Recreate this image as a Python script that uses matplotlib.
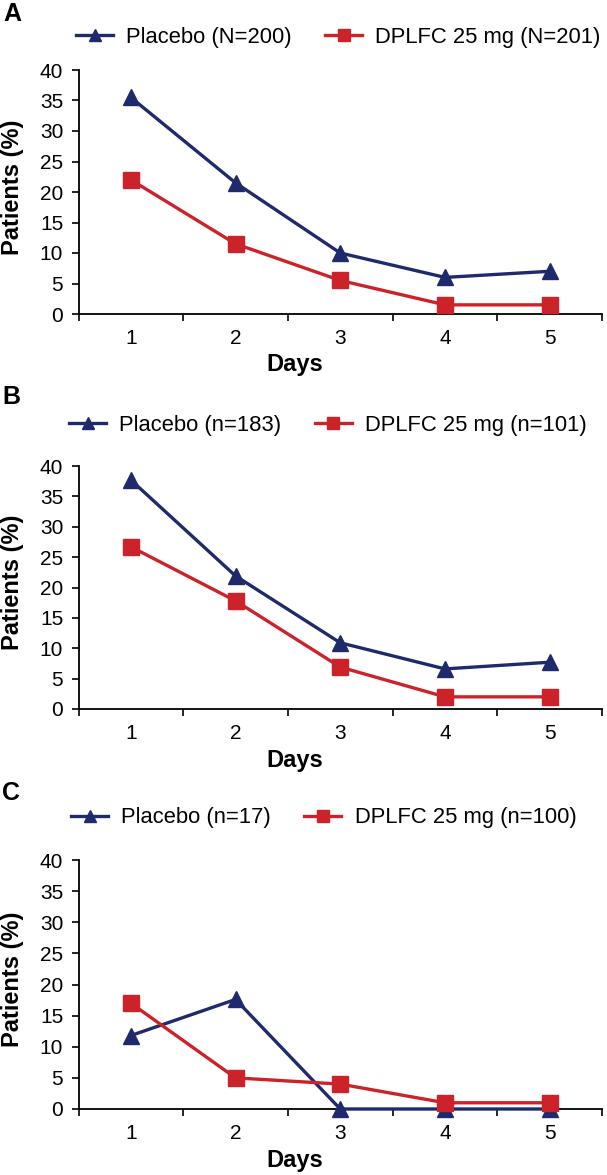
import numpy as np
import matplotlib
matplotlib.use("Agg")
import matplotlib.pyplot as plt
from matplotlib.ticker import FixedLocator, NullFormatter, FixedFormatter

plt.rcParams['font.family'] = ['Liberation Sans', 'DejaVu Sans']

# Data
days = [1, 2, 3, 4, 5]
day_labels = ["1", "2", "3", "4", "5"]

placebo_a = [35.5, 21.5, 10.0, 6.0, 7.0]
dplfc_a = [22.0, 11.5, 5.5, 1.5, 1.5]

placebo_b = [37.7, 21.9, 10.9, 6.6, 7.7]
dplfc_b = [26.7, 17.8, 6.9, 2.0, 2.0]

placebo_c = [11.8, 17.6, 0.0, 0.0, 0.0]
dplfc_c = [17.0, 5.0, 4.0, 1.0, 1.0]

panel_letters = ["A", "B", "C"]
placebo_names = ["Placebo (N=200)", "Placebo (n=183)", "Placebo (n=17)"]
dplfc_names = ["DPLFC 25 mg (N=201)", "DPLFC 25 mg (n=101)", "DPLFC 25 mg (n=100)"]

NAVY = "#1f2a6d"
RED = "#cc2229"

W, H = 607, 1175
fig = plt.figure(figsize=(W / 100, H / 100), dpi=100)


def px(x, y):
    # pixel coords (from top-left) -> figure fraction
    return x / W, 1 - y / H


# axes boxes in pixels: left, right, top, bottom
boxes = [(78.5, 602, 70, 314), (78.5, 602, 466, 709), (78.5, 602, 860, 1109)]
letter_pos = [(12, 14), (11, 397), (11, 793)]
legend_pos = [(76, 37), (69, 425), (71, 818)]
days_y = [365, 760, 1160]

series = [(placebo_a, dplfc_a), (placebo_b, dplfc_b), (placebo_c, dplfc_c)]

for i in range(3):
    l, r, t, b = boxes[i]
    ax = fig.add_axes([l / W, 1 - b / H, (r - l) / W, (b - t) / H])
    pl, dp = series[i]

    h1, = ax.plot(days, pl, color=NAVY, lw=2.4, marker="^", ms=12,
                  clip_on=False, zorder=3)
    h2, = ax.plot(days, dp, color=RED, lw=2.4, marker="s", ms=11,
                  clip_on=False, zorder=4)

    ax.set_xlim(0.5, 5.5)
    ax.set_ylim(0, 40)
    ax.set_yticks(np.arange(0, 41, 5))

    # category axis: ticks on the boundaries, labels in the middle
    ax.xaxis.set_major_locator(FixedLocator(np.arange(0.5, 5.6, 1)))
    ax.xaxis.set_major_formatter(NullFormatter())
    ax.xaxis.set_minor_locator(FixedLocator(days))
    ax.xaxis.set_minor_formatter(FixedFormatter(day_labels))
    ax.tick_params(axis="x", which="major", length=5, width=1.2, direction="out")
    ax.tick_params(axis="x", which="minor", length=0, pad=11, labelsize=15)
    ax.tick_params(axis="y", length=5, width=1.2, direction="out", pad=6, labelsize=15)

    for s in ["top", "right"]:
        ax.spines[s].set_visible(False)
    for s in ["left", "bottom"]:
        ax.spines[s].set_linewidth(1.3)

    ax.set_ylabel("Patients (%)", fontsize=17, fontweight="bold")
    ax.yaxis.set_label_coords((1 - l) / (r - l), 0.52)
    ax.yaxis.label.set_va("top")

    fig.text(*px(295, days_y[i]), "Days", fontsize=17, fontweight="bold",
             ha="center", va="center")
    fig.text(*px(*letter_pos[i]), panel_letters[i], fontsize=18, fontweight="bold",
             ha="center", va="center")

    fig.legend([h1, h2], [placebo_names[i], dplfc_names[i]], loc="center left",
               bbox_to_anchor=px(*legend_pos[i]), ncol=2, frameon=False,
               fontsize=15.8, handlelength=1.7, handletextpad=0.6,
               columnspacing=1.5, markerscale=0.75, borderpad=0, borderaxespad=0)

fig.savefig("out.png", dpi=100)
